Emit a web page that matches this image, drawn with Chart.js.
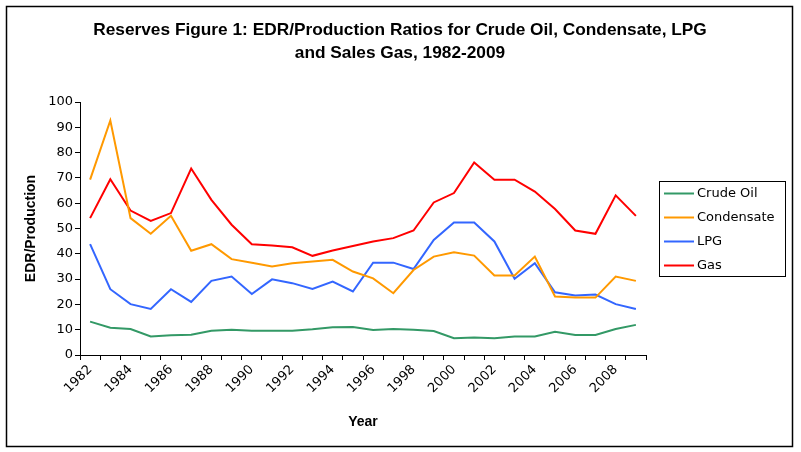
<!DOCTYPE html>
<html>
<head>
<meta charset="utf-8">
<script src="https://cdn.jsdelivr.net/npm/chart.js@4.4.0/dist/chart.umd.min.js"></script>
<style>
    html, body { margin: 0; padding: 0; background: #fff; }
</style>
</head>
<body>
<canvas id="chart-edr" width="801" height="452"></canvas>
<script>
// data
const years = ['1982', '1983', '1984', '1985', '1986', '1987', '1988', '1989', '1990', '1991',
    '1992', '1993', '1994', '1995', '1996', '1997', '1998', '1999', '2000', '2001',
    '2002', '2003', '2004', '2005', '2006', '2007', '2008', '2009'];
const crudeOil = [13.2, 10.8, 10.3, 7.3, 7.8, 8.0, 9.6, 10.0, 9.6, 9.6, 9.6, 10.2, 11.0, 11.1,
    9.9, 10.3, 10.0, 9.5, 6.6, 6.9, 6.6, 7.3, 7.3, 9.2, 7.9, 7.9, 10.3, 11.9];
const condensate = [69.3, 92.7, 54.1, 47.9, 55.0, 41.2, 43.8, 37.9, 36.5, 35.0, 36.3, 37.0, 37.6, 33.0,
    30.3, 24.4, 33.6, 38.9, 40.6, 39.3, 31.4, 31.4, 38.9, 23.1, 22.7, 22.7, 31.0, 29.3];
const lpg = [43.8, 26.0, 20.1, 18.2, 26.0, 21.0, 29.3, 31.0, 24.1, 29.9, 28.4, 26.1, 29.0, 25.1,
    36.5, 36.5, 34.0, 45.5, 52.4, 52.4, 44.9, 30.1, 36.3, 24.8, 23.5, 23.9, 20.1, 18.2];
const gas = [54.1, 69.5, 57.1, 53.0, 56.1, 73.7, 61.3, 51.5, 43.8, 43.3, 42.6, 39.2, 41.3, 43.1,
    44.9, 46.2, 49.2, 60.3, 64.0, 76.1, 69.3, 69.3, 64.6, 57.7, 49.2, 47.9, 63.1, 55.0];
const titleLines = ['Reserves Figure 1: EDR/Production Ratios for Crude Oil, Condensate, LPG',
    'and Sales Gas, 1982-2009'];

const tickFont = { family: 'DejaVu Sans', size: 13 };

// white background, outer frame and title
const framePlugin = {
    id: 'frame',
    beforeDraw(chart) {
        const ctx = chart.ctx;
        ctx.save();
        ctx.fillStyle = '#fff';
        ctx.fillRect(0, 0, chart.width, chart.height);
        ctx.restore();
    },
    afterDraw(chart) {
        const ctx = chart.ctx;
        ctx.save();
        ctx.strokeStyle = '#000';
        ctx.lineWidth = 1.5;
        ctx.strokeRect(6.5, 6.5, 786, 440);

        // title, centred on the whole picture
        ctx.fillStyle = '#000';
        ctx.font = 'bold 17.3px "Liberation Sans", Arial, sans-serif';
        ctx.textAlign = 'center';
        ctx.textBaseline = 'middle';
        titleLines.forEach((line, i) => ctx.fillText(line, 400, 30 + i * 23));
        ctx.restore();
    }
};

// boxed legend on the right
const boxLegendPlugin = {
    id: 'boxLegend',
    afterDraw(chart) {
        const ctx = chart.ctx;
        ctx.save();
        ctx.strokeStyle = '#000';
        ctx.lineWidth = 1;
        ctx.strokeRect(659.5, 181.5, 126, 95);
        ctx.font = '13px "DejaVu Sans"';
        ctx.textAlign = 'left';
        ctx.textBaseline = 'middle';
        chart.data.datasets.forEach((ds, i) => {
            const y = 193.5 + i * 24;
            ctx.strokeStyle = ds.borderColor;
            ctx.lineWidth = 2;
            ctx.beginPath();
            ctx.moveTo(664, y);
            ctx.lineTo(694, y);
            ctx.stroke();
            ctx.fillStyle = '#000';
            ctx.fillText(ds.label, 697, y);
        });
        ctx.restore();
    }
};

function createLineChart(idChart) {

    const ctx = document.getElementById(`${idChart}`).getContext('2d');

    const myChart = new Chart(ctx, {
        type: 'line',
        data: {
            labels: years,
            datasets: [
                { label: 'Crude Oil', data: crudeOil, borderColor: '#339966' },
                { label: 'Condensate', data: condensate, borderColor: '#FF9900' },
                { label: 'LPG', data: lpg, borderColor: '#3366FF' },
                { label: 'Gas', data: gas, borderColor: '#FF0000' }
            ]
        },
        options: {
            responsive: false,
            animation: false,
            devicePixelRatio: 1,
            layout: {
                padding: { top: 102, right: 155, bottom: 0, left: 0 }
            },
            elements: {
                line: { borderWidth: 2, tension: 0, fill: false },
                point: { radius: 0, hoverRadius: 0 }
            },
            plugins: {
                legend: { display: false },
                title: { display: false },
                tooltip: { enabled: false }
            },
            scales: {
                x: {
                    type: 'category',
                    offset: true,
                    afterFit: (scale) => { scale.height = 97; },
                    grid: {
                        offset: true,
                        drawOnChartArea: false,
                        tickLength: 5,
                        tickColor: '#000',
                        color: '#000'
                    },
                    border: { display: true, color: '#000', width: 1 },
                    ticks: {
                        autoSkip: false,
                        minRotation: 45,
                        maxRotation: 45,
                        padding: 2,
                        color: '#000',
                        font: tickFont,
                        callback: (val, index) => (index % 2 === 0 && index < 27 ? years[index] : '')
                    },
                    title: {
                        display: true,
                        text: 'Year',
                        color: '#000',
                        font: { family: 'Liberation Sans', size: 14, weight: 'bold' },
                        padding: { top: 0, bottom: 21 }
                    }
                },
                y: {
                    min: 0,
                    max: 100,
                    afterFit: (scale) => { scale.width = 80; },
                    grid: {
                        drawOnChartArea: false,
                        tickLength: 5,
                        tickColor: '#000',
                        color: '#000'
                    },
                    border: { display: true, color: '#000', width: 1 },
                    ticks: {
                        stepSize: 10,
                        padding: 2,
                        color: '#000',
                        font: tickFont
                    },
                    title: {
                        display: true,
                        text: 'EDR/Production',
                        color: '#000',
                        font: { family: 'Liberation Sans', size: 14, weight: 'bold' },
                        padding: { top: 22.6, bottom: 0 }
                    }
                }
            }
        },
        plugins: [framePlugin, boxLegendPlugin]
    });

    return myChart;
}

createLineChart('chart-edr');
</script>
</body>
</html>
